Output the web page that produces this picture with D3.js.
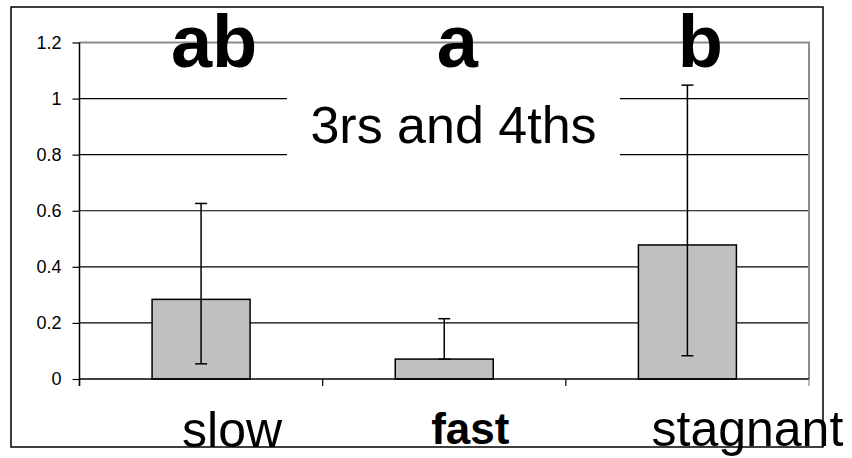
<!DOCTYPE html>
<html>
<head>
<meta charset="utf-8">
<script src="https://cdn.jsdelivr.net/npm/d3@7"></script>
<style>
  body { margin: 0; background: #fff; }
  text { font-family: Arial, "Liberation Sans", sans-serif; }
</style>
</head>
<body>
<script>
 ///////////////////////////////////////////////////////
 // data

 var categories = ["slow", "fast", "stagnant"];
 var means = [0.284, 0.071, 0.478];
 var errHigh = [0.626, 0.215, 1.048];
 var errLow = [0.054, 0.071, 0.083];
 var groupLetters = ["ab", "a", "b"];
 var yTickValues = [0, 0.2, 0.4, 0.6, 0.8, 1, 1.2];
 var titleText = "3rs and 4ths";

 ///////////////////////////////////////////////////////
 // margins

 var w = 852;
 var h = 458;
 var svg = d3.select("body").append("svg")
   .attr("width", w)
   .attr("height", h),
   margin = { top: 42.5, left: 79.5, right: 43, bottom: 79 },
   width = w - margin.left - margin.right,
   height = h - margin.top - margin.bottom;

 // outer chart frame
 svg.append("rect")
   .attr("x", 11).attr("y", 7)
   .attr("width", 812).attr("height", 440)
   .attr("fill", "#fff")
   .attr("stroke", "#000")
   .attr("stroke-width", 1.5);

 ///////////////////////////////////////////////////////
 // scales

 var x = d3.scaleBand()
   .domain(categories)
   .range([0, width])
   .paddingInner(0.597)
   .paddingOuter(0.2985);
 var y = d3.scaleLinear()
   .domain([0, 1.2])
   .range([height, 0]);

 var chart = svg.append("g")
   .attr("transform", "translate(" + margin.left + "," + margin.top + ")");

 ///////////////////////////////////////////////////////
 // gridlines + plot border

 chart.append("g")
   .selectAll("line")
   .data(yTickValues.filter(function(d) { return d > 0 && d < 1.2; }))
   .enter().append("line")
   .attr("x1", 0).attr("x2", width)
   .attr("y1", function(d) { return y(d); })
   .attr("y2", function(d) { return y(d); })
   .attr("stroke", "#000")
   .attr("stroke-width", 1.2);

 // grey top and right edges of plot area
 chart.append("path")
   .attr("d", "M0," + y(1.2) + "H" + width + "V" + y(0))
   .attr("fill", "none")
   .attr("stroke", "#8c8c8c")
   .attr("stroke-width", 2);

 ///////////////////////////////////////////////////////
 // bars

 var step = x.step();
 chart.selectAll(".bar")
   .data(categories)
   .enter().append("rect")
   .classed("bar", true)
   .attr("x", function(d) { return x(d); })
   .attr("y", function(d, i) { return y(means[i]); })
   .attr("width", x.bandwidth())
   .attr("height", function(d, i) { return y(0) - y(means[i]); })
   .attr("fill", "#c0c0c0")
   .attr("stroke", "#000")
   .attr("stroke-width", 1.5);

 // error bars
 var capW = 12;
 var eb = chart.selectAll(".err")
   .data(categories)
   .enter().append("g")
   .classed("err", true)
   .attr("transform", function(d) { return "translate(" + (x(d) + x.bandwidth() / 2) + ",0)"; });
 eb.append("line")
   .attr("y1", function(d, i) { return y(errLow[i]); })
   .attr("y2", function(d, i) { return y(errHigh[i]); })
   .attr("stroke", "#000").attr("stroke-width", 1.5);
 eb.append("line")
   .attr("x1", -capW / 2).attr("x2", capW / 2)
   .attr("y1", function(d, i) { return y(errHigh[i]); })
   .attr("y2", function(d, i) { return y(errHigh[i]); })
   .attr("stroke", "#000").attr("stroke-width", 1.5);
 eb.append("line")
   .attr("x1", -capW / 2).attr("x2", capW / 2)
   .attr("y1", function(d, i) { return y(errLow[i]); })
   .attr("y2", function(d, i) { return y(errLow[i]); })
   .attr("stroke", "#000").attr("stroke-width", 1.5);

 ///////////////////////////////////////////////////////
 // axes

 var yAxis = d3.axisLeft(y)
   .tickValues(yTickValues)
   .tickSize(7)
   .tickPadding(11)
   .tickFormat(function(d) { return d3.format("")(d); });
 var gy = chart.append("g").call(yAxis);
 gy.select(".domain").remove();
 gy.selectAll(".tick line").attr("stroke", "#000").attr("stroke-width", 1.2);
 gy.selectAll(".tick text")
   .style("font-size", "18px")
   .style("font-family", "Arial, 'Liberation Sans', sans-serif")
   .attr("fill", "#000");

 // axis lines
 chart.append("line")
   .attr("x1", 0).attr("x2", 0)
   .attr("y1", y(1.2)).attr("y2", y(0) + 7)
   .attr("stroke", "#000").attr("stroke-width", 1.5);
 chart.append("line")
   .attr("x1", 0).attr("x2", width)
   .attr("y1", y(0)).attr("y2", y(0))
   .attr("stroke", "#000").attr("stroke-width", 1.5);

 // category boundary ticks
 chart.append("g")
   .selectAll("line")
   .data(d3.range(categories.length + 1))
   .enter().append("line")
   .attr("x1", function(i) { return i * step; })
   .attr("x2", function(i) { return i * step; })
   .attr("y1", y(0)).attr("y2", y(0) + 7)
   .attr("stroke", function(i) { return i === categories.length ? "#8c8c8c" : "#000"; })
   .attr("stroke-width", 1.2);

 ///////////////////////////////////////////////////////
 // title with white box over gridlines

 svg.append("rect")
   .attr("x", 287).attr("y", 82)
   .attr("width", 333).attr("height", 90)
   .attr("fill", "#fff");
 svg.append("text")
   .attr("x", 453.5).attr("y", 143)
   .attr("text-anchor", "middle")
   .style("font-size", "52px")
   .text(titleText);

 // significance letters
 chart.selectAll(".letter")
   .data(categories)
   .enter().append("text")
   .classed("letter", true)
   .attr("x", function(d) { return x(d) + x.bandwidth() / 2 + 13; })
   .attr("y", 67 - margin.top)
   .attr("text-anchor", "middle")
   .style("font-size", "74px")
   .style("font-weight", "bold")
   .text(function(d, i) { return groupLetters[i]; });

 // category labels (placed as free text boxes)
 var labelShift = [31, 26, 60];
 var labelSize = [50, 44, 50];
 var labelBase = [447, 444, 446];
 chart.selectAll(".cat")
   .data(categories)
   .enter().append("text")
   .classed("cat", true)
   .attr("x", function(d, i) { return x(d) + x.bandwidth() / 2 + labelShift[i]; })
   .attr("y", function(d, i) { return labelBase[i] - margin.top; })
   .attr("text-anchor", "middle")
   .style("font-size", function(d, i) { return labelSize[i] + "px"; })
   .style("font-weight", function(d) { return d === "fast" ? "bold" : "normal"; })
   .text(function(d) { return d; });
</script>
</body>
</html>
